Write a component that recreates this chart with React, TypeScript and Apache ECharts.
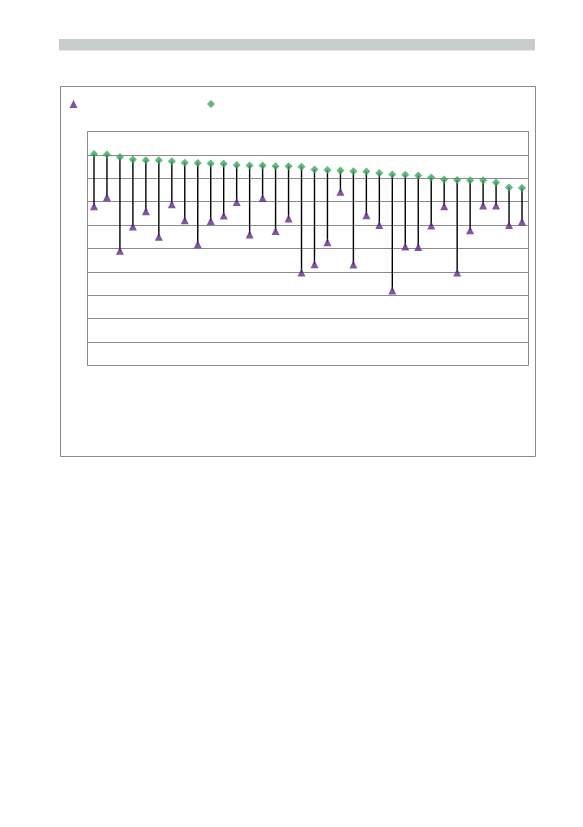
import { useEffect, useRef } from "react";
import * as echarts from "echarts";

const categories = Array.from({ length: 34 }, (_, i) => `P${i + 1}`);

// upper value (green diamond)
const highValues = [
  90.4, 90.2, 89.1, 88.0, 87.7, 87.7, 87.3, 86.6, 86.5, 86.3, 86.2, 85.7, 85.5, 85.5, 85.2, 85.2, 84.9,
  83.8, 83.5, 83.3, 83.0, 82.9, 82.3, 81.6, 81.5, 81.2, 80.3, 79.5, 79.3, 79.2, 79.2, 78.2, 76.1, 75.9,
];

// lower value (purple triangle)
const lowValues = [
  68.1, 71.9, 49.0, 59.4, 65.9, 55.0, 68.9, 62.1, 51.8, 61.7, 64.1, 69.9, 56.0, 71.6, 57.5, 62.8, 39.7,
  43.3, 52.7, 74.2, 43.2, 64.2, 60.0, 32.1, 50.9, 50.6, 59.8, 68.1, 39.7, 57.8, 68.4, 68.4, 60.0, 61.5,
];

const PURPLE = "#63288f";
const GREEN = "#38a85a";
const GRID_GRAY = "#8a8a8a";

export default function App() {
  const ref = useRef<HTMLDivElement>(null);

  useEffect(() => {
    if (!ref.current) return;
    const chart = echarts.init(ref.current, undefined, { renderer: "svg" });
    chart.setOption({
      animation: false,
      backgroundColor: "#ffffff",
      graphic: [
        { type: "rect", shape: { x: 59, y: 39, width: 476, height: 11.5 }, style: { fill: "#c8ccca" }, silent: true },
        {
          type: "rect",
          shape: { x: 60.5, y: 86.5, width: 475, height: 370 },
          style: { fill: "none", stroke: GRID_GRAY, lineWidth: 1 },
          silent: true,
        },
      ],
      legend: [
        {
          data: ["lo"],
          left: 69.5,
          top: 100,
          padding: 0,
          itemWidth: 8,
          itemHeight: 8,
          formatter: () => "",
          selectedMode: false,
        },
        {
          data: ["hi"],
          left: 207,
          top: 100,
          padding: 0,
          itemWidth: 8,
          itemHeight: 8,
          formatter: () => "",
          selectedMode: false,
        },
      ],
      grid: {
        left: 87.5,
        top: 131.5,
        width: 441,
        height: 234,
        show: true,
        borderColor: GRID_GRAY,
        borderWidth: 1,
        containLabel: false,
      },
      xAxis: {
        type: "category",
        data: categories,
        boundaryGap: true,
        axisLine: { show: false },
        axisTick: { show: false },
        axisLabel: { show: false },
        splitLine: { show: false },
      },
      yAxis: {
        type: "value",
        min: 0,
        max: 100,
        interval: 10,
        axisLine: { show: false },
        axisTick: { show: false },
        axisLabel: { show: false },
        splitLine: { show: true, lineStyle: { color: GRID_GRAY, width: 1 } },
      },
      series: [
        {
          type: "custom",
          name: "range",
          z: 1,
          silent: true,
          data: categories.map((_, i) => [i, highValues[i], lowValues[i]]),
          renderItem: (_params: any, api: any) => {
            const top = api.coord([api.value(0), api.value(1)]);
            const bottom = api.coord([api.value(0), api.value(2)]);
            return {
              type: "line",
              shape: { x1: top[0], y1: top[1], x2: bottom[0], y2: bottom[1] },
              style: { stroke: "#000000", lineWidth: 1.4 },
            };
          },
        },
        {
          type: "scatter",
          name: "lo",
          z: 3,
          data: lowValues,
          symbol: "triangle",
          symbolSize: 8,
          itemStyle: { color: PURPLE },
        },
        {
          type: "scatter",
          name: "hi",
          z: 3,
          data: highValues,
          symbol: "diamond",
          symbolSize: 8,
          itemStyle: { color: GREEN },
        },
      ],
    });
    return () => chart.dispose();
  }, []);

  return <div ref={ref} style={{ position: "absolute", left: 0, top: 0, width: 583, height: 827 }} />;
}
